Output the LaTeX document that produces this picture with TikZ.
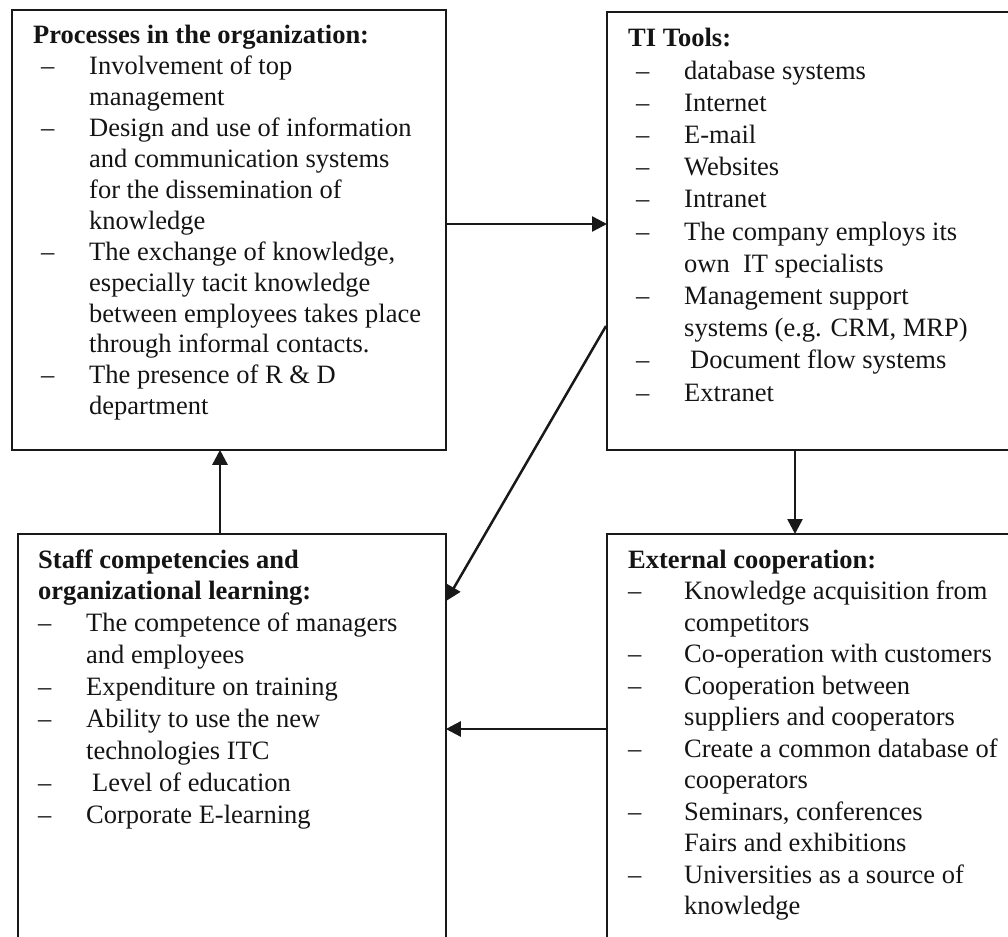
\documentclass[tikz,border=0pt]{standalone}
\usepackage{fontspec}
\setmainfont{Liberation Serif}
\usepackage{array}
\usetikzlibrary{arrows.meta}
\tikzset{
  box/.style={draw=black!90, line width=1.8pt, rectangle, inner sep=0pt, anchor=north west},
  txt/.style={inner sep=0pt, anchor=base west, text=black!92},
  arr/.style={draw=black!90, line width=2.5pt, -{Triangle[length=15pt,width=15pt]}, shorten >=-1pt}
}
\begin{document}
\begin{tikzpicture}[x=1pt,y=1pt]
\useasboundingbox (0,0) rectangle (1008,-936);
\clip (0,0) rectangle (1008,-936);
% boxes
\node[box, minimum width=434pt, minimum height=440pt] (tl) at (11,-9) {};
\node[box, minimum width=420pt, minimum height=438pt] (tr) at (606,-11) {};
\node[box, minimum width=428pt, minimum height=420pt] (bl) at (17,-533) {};
\node[box, minimum width=420pt, minimum height=420pt] (br) at (606,-533) {};
% texts
\node[txt, font=\fontsize{26.5}{30.9}\selectfont] (tlt) at (33,-44) {\begin{tabular}[t]{@{}p{56pt}@{}l@{}}
\multicolumn{2}{@{}l@{}}{\bfseries Processes in the organization:}\\
\hspace*{8pt}– & Involvement of top\\
 & management\\
\hspace*{8pt}– & Design and use of information\\
 & and communication systems\\
 & for the dissemination of\\
 & knowledge\\
\hspace*{8pt}– & The exchange of knowledge,\\
 & especially tacit knowledge\\
 & between employees takes place\\
 & through informal contacts.\\
\hspace*{8pt}– & The presence of R \& D\\
 & department
\end{tabular}};
\node[txt, font=\fontsize{26.5}{32.2}\selectfont] (trt) at (628,-47) {\begin{tabular}[t]{@{}p{56pt}@{}l@{}}
\multicolumn{2}{@{}l@{}}{\bfseries TI Tools:}\\
\hspace*{8pt}– & database systems\\
\hspace*{8pt}– & Internet\\
\hspace*{8pt}– & E-mail\\
\hspace*{8pt}– & Websites\\
\hspace*{8pt}– & Intranet\\
\hspace*{8pt}– & The company employs its\\
 & own \ IT specialists\\
\hspace*{8pt}– & Management support\\
 & systems (e.g. CRM, MRP)\\
\hspace*{8pt}– & \hspace*{6pt}Document flow systems\\
\hspace*{8pt}– & Extranet
\end{tabular}};
\node[txt, font=\fontsize{26.5}{31.9}\selectfont] (blt) at (38,-568) {\begin{tabular}[t]{@{}p{48pt}@{}l@{}}
\multicolumn{2}{@{}l@{}}{\bfseries Staff competencies and}\\
\multicolumn{2}{@{}l@{}}{\bfseries organizational learning:}\\
– & The competence of managers\\
 & and employees\\
– & Expenditure on training\\
– & Ability to use the new\\
 & technologies ITC\\
– & \hspace*{6pt}Level of education\\
– & Corporate E-learning
\end{tabular}};
\node[txt, font=\fontsize{26.5}{31.5}\selectfont] (brt) at (628,-568) {\begin{tabular}[t]{@{}p{56pt}@{}l@{}}
\multicolumn{2}{@{}l@{}}{\bfseries External cooperation:}\\
– & Knowledge acquisition from\\
 & competitors\\
– & Co-operation with customers\\
– & Cooperation between\\
 & suppliers and cooperators\\
– & Create a common database of\\
 & cooperators\\
– & Seminars, conferences\\
 & Fairs and exhibitions\\
– & Universities as a source of\\
 & knowledge
\end{tabular}};
% connectors
\draw[arr] (tl.east |- 0,-224) -- (tr.west |- 0,-224);
\draw[arr] (tr.west |- 0,-326) -- (bl.east |- 0,-600);
\draw[arr] (tr.south -| 795,0) -- (br.north -| 795,0);
\draw[arr] (bl.north -| 220,0) -- (tl.south -| 220,0);
\draw[arr] (br.west |- 0,-729) -- (bl.east |- 0,-729);
\end{tikzpicture}
\end{document}
